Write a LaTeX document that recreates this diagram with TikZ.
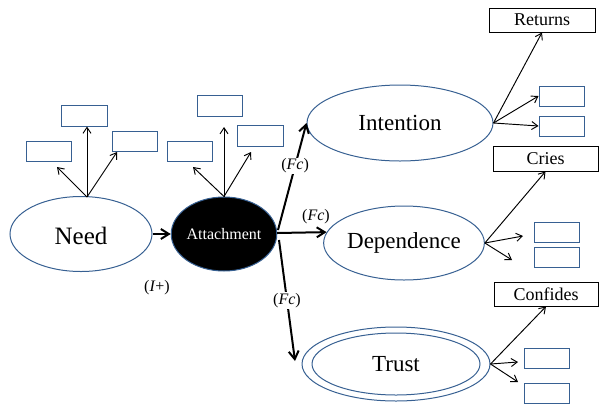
\documentclass[tikz,border=0pt]{standalone}
\usepackage{fontspec}
\setmainfont{Liberation Serif}
\usetikzlibrary{arrows.meta,shapes.geometric,calc}
\definecolor{outline}{RGB}{55,96,146}
\begin{document}
\begin{tikzpicture}[x=1pt,y=-1pt,
  state/.style={ellipse, draw=outline, line width=1pt, inner sep=0pt},
  blank/.style={draw=outline, line width=1pt, minimum width=45pt, minimum height=20pt, inner sep=0pt},
  tag/.style={draw=black, line width=1pt, minimum height=24pt, inner sep=0pt, font=\fontsize{18}{20}\selectfont},
  thinarrow/.style={-{Straight Barb[length=6pt,width=8pt]}, line width=0.95pt},
  thickarrow/.style={-{Straight Barb[length=8pt,width=10pt]}, line width=2pt},
  fc/.style={fill=white, inner sep=1pt, font=\fontsize{16}{18}\selectfont}]
\useasboundingbox (0,0) rectangle (599,405);

% main states
\node[state, minimum width=142pt, minimum height=75pt, text height=22pt, font=\fontsize{25}{28}\selectfont] (need) at (81,234) {Need};
\node[state, fill=black, text=white, minimum width=104pt, minimum height=74pt, font=\fontsize{16}{18}\selectfont] (att) at (224,234) {Attachment};
\node[state, minimum width=186pt, minimum height=76pt, font=\fontsize{23}{26}\selectfont] (int) at (400,123) {Intention};
\node[state, minimum width=156pt, minimum height=74pt, font=\fontsize{23}{26}\selectfont] (dep) at (404,243) {Dependence};
\node[state, minimum width=188pt, minimum height=74pt] (trust) at (396,364) {};
\node[state, minimum width=168pt, minimum height=62pt, font=\fontsize{23}{26}\selectfont] (trustin) at (396,364) {Trust};

% empty indicator boxes
\node[blank, minimum width=46pt, minimum height=21pt] (nTop) at (84,115.5) {};
\node[blank] (nLeft) at (48.5,151) {};
\node[blank] (nRight) at (134.5,141) {};
\node[blank, minimum height=21pt] (aTop) at (219.5,105.5) {};
\node[blank] (aLeft) at (189.5,151) {};
\node[blank, minimum width=46pt, minimum height=21pt] (aRight) at (260,135.5) {};
\node[blank] (iA) at (561.5,96) {};
\node[blank] (iB) at (561.5,126) {};
\node[blank] (dA) at (556.5,232) {};
\node[blank] (dB) at (556.5,257) {};
\node[blank] (tA) at (546.5,358) {};
\node[blank] (tB) at (546.5,393) {};

% labelled boxes
\node[tag, minimum width=106pt] (ret) at (542,20) {Returns};
\node[tag, minimum width=105pt, minimum height=25pt] (cries) at (545.5,158.5) {Cries};
\node[tag, minimum width=104pt] (conf) at (546,294) {Confides};

% arrow origins and free ends
\coordinate (needc) at (87,197);
\coordinate (nLt) at (57,167);
\coordinate (nRt) at (117,152);
\coordinate (aLt) at (193,167);
\coordinate (aRt) at (251,152);
\coordinate (aTt) at (224,127);
\coordinate (dAt) at (523,236);
\coordinate (dBt) at (512,260);
\coordinate (tAt) at (518,362);
\coordinate (tBt) at (518,382);
\coordinate (attI) at (278,230);
\coordinate (attD) at (277,233);
\coordinate (attT) at (279,240);
\coordinate (trustt) at (295,361);

% indicator arrows
\draw[thinarrow] (needc) -- (needc |- nTop.south);
\draw[thinarrow] (needc) -- (nLt);
\draw[thinarrow] (needc) -- (nRt);
\draw[thinarrow] (att.north) -- (aTt);
\draw[thinarrow] (att.north) -- (aLt);
\draw[thinarrow] (att.north) -- (aRt);
\draw[thinarrow] (int.east) -- (ret.south);
\draw[thinarrow] (int.east) -- (iA.west);
\draw[thinarrow] (int.east) -- (iB.west);
\draw[thinarrow] (dep.east) -- (cries.south);
\draw[thinarrow] (dep.east) -- (dAt);
\draw[thinarrow] (dep.east) -- (dBt);
\draw[thinarrow] (trust.east) -- (conf.south);
\draw[thinarrow] (trust.east) -- (tAt);
\draw[thinarrow] (trust.east) -- (tBt);

% causal arrows
\draw[thickarrow] (need.east) -- (att.west);
\draw[thickarrow] (attI) -- (int.west) node[fc, pos=0.6] {(\textit{Fc})};
\draw[thickarrow] (attD) -- (dep.172);
\draw[thickarrow] (attT) -- (trustt) node[fc, pos=0.5] {(\textit{Fc})};

% labels
\node[fc, fill=none] (fcd) at (316,217) {(\textit{Fc})};
\node[fc, fill=none] (ip) at (157,288) {(\textit{I}+)};
\end{tikzpicture}
\end{document}
